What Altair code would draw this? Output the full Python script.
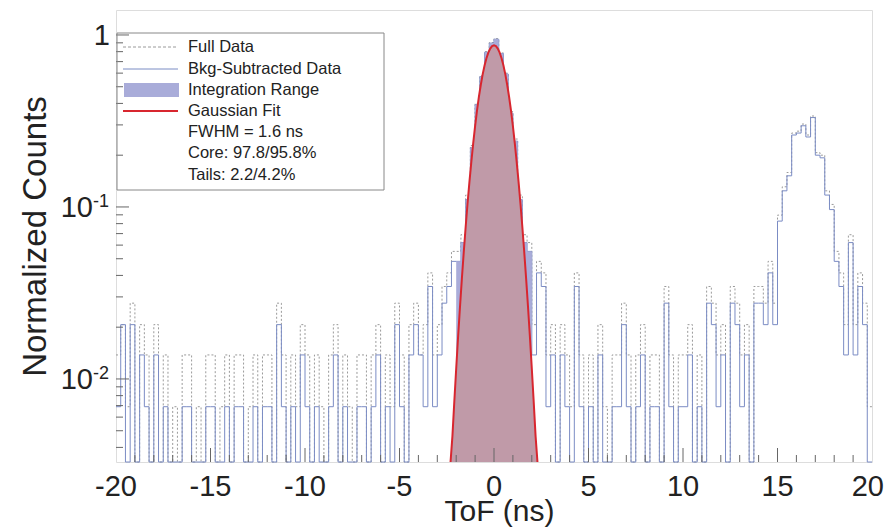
import altair as alt
import pandas as pd
import numpy as np

FONT = "Liberation Sans"

# ---------------- data (counts per 0.25 ns bin, -20 .. 20 ns) ----------------
BIN_W = 0.25
X_MIN = -20.0
NORM = 145.0          # counts -> normalized counts

full_left = [2, 3, 1, 4, 0, 3, 2, 0, 3, 0, 2, 0, 1, 0, 2, 2, 0, 1, 0, 2,
             2, 0, 1, 2, 0, 2, 2, 0, 1, 2, 0, 2, 2, 0, 4, 2, 0, 2, 1, 3,
             2, 0, 2, 1, 0, 2, 3, 0, 2, 1, 0, 2, 2, 0, 2, 3, 0, 2, 1, 4]
full_mid = [2, 0, 3, 4, 2, 3, 6, 2, 3, 5, 6, 8, 8, 10, 17, 33, 58, 84, 116, 131,
            138, 114, 87, 52, 36, 17, 10, 9, 3, 7, 6, 2, 3, 0, 3, 2, 1, 6, 2, 0]
full_right = [2, 0, 3, 1, 0, 2, 2, 4, 2, 0, 2, 3, 0, 2, 2, 0, 5, 2, 0, 2,
              2, 3, 0, 2, 0, 5, 4, 2, 3, 0, 5, 4, 2, 3, 0, 5, 5, 4, 7, 4,
              13, 19, 23, 39, 40, 44, 38, 49, 30, 29, 18, 15, 8, 6, 3, 10, 3, 6, 4, 1]

bkg_left = [1, 3, 0, 3, 0, 2, 1, 0, 2, 0, 1, 0, 0, 0, 1, 1, 0, 0, 0, 1,
            1, 0, 0, 1, 0, 1, 1, 0, 0, 1, 0, 1, 1, 0, 3, 1, 0, 1, 0, 2,
            1, 0, 1, 0, 0, 1, 2, 0, 1, 0, 0, 1, 1, 0, 1, 2, 0, 1, 0, 3]
bkg_mid = [1, 0, 2, 3, 2, 1, 5, 1, 2, 4, 5, 7, 7, 9, 16, 32, 57, 83, 115, 130,
           137, 113, 86, 51, 35, 16, 9, 8, 2, 6, 5, 1, 2, 0, 2, 1, 0, 5, 1, 0]
bkg_right = [1, 0, 2, 0, 0, 1, 1, 3, 1, 0, 1, 2, 0, 1, 1, 0, 4, 1, 0, 1,
             1, 2, 0, 1, 0, 4, 3, 1, 2, 0, 4, 3, 1, 2, 0, 4, 4, 3, 6, 3,
             12, 18, 22, 38, 39, 43, 37, 48, 29, 28, 17, 14, 7, 5, 2, 9, 2, 5, 3, 0]

# Gaussian fit curve (x in ns, normalized counts)
gauss_x = [-2.3, -2.2, -2.1, -2.0, -1.9, -1.8, -1.7, -1.6, -1.5, -1.4, -1.3, -1.2,
           -1.1, -1.0, -0.9, -0.8, -0.7, -0.6, -0.5, -0.4, -0.3, -0.2, -0.1, 0.0,
           0.1, 0.2, 0.3, 0.4, 0.5, 0.6, 0.7, 0.8, 0.9, 1.0, 1.1, 1.2,
           1.3, 1.4, 1.5, 1.6, 1.7, 1.8, 1.9, 2.0, 2.1, 2.2, 2.3]
gauss_y = [0.00285, 0.00465, 0.0074, 0.0115, 0.0176, 0.0262, 0.0383, 0.0547, 0.0765, 0.1047, 0.140, 0.183,
           0.235, 0.295, 0.363, 0.436, 0.512, 0.590, 0.664, 0.732, 0.789, 0.833, 0.861, 0.870,
           0.861, 0.833, 0.789, 0.732, 0.664, 0.590, 0.512, 0.436, 0.363, 0.295, 0.235, 0.183,
           0.140, 0.1047, 0.0765, 0.0547, 0.0383, 0.0262, 0.0176, 0.0115, 0.0074, 0.00465, 0.00285]

INT_RANGE = [-2.0, 2.0]

x_tick_labels = [-20, -15, -10, -5, 0, 5, 10, 15, 20]
x_major_ticks = [-15, -10, -5, 0, 5, 10, 15]
x_minor_ticks = [v for v in range(-19, 20) if v % 5 != 0]
y_major_ticks = [1.0, 0.1, 0.01]
y_minor_ticks = [k * 10.0 ** e for e in (-3, -2, -1) for k in range(2, 10)]

legend_labels = ["Full Data", "Bkg-Subtracted Data", "Integration Range", "Gaussian Fit",
                 "FWHM = 1.6 ns", "Core: 97.8/95.8%", "Tails: 2.2/4.2%"]

# ---------------- build tables ----------------
Y_DOMAIN = [0.00329, 1.397]
FLOOR = 0.0005
full_counts = full_left + full_mid + full_right
bkg_counts = bkg_left + bkg_mid + bkg_right
n = len(full_counts)
edges = [X_MIN + BIN_W * i for i in range(n)] + [X_MIN + BIN_W * n]
full_vals = [max(c / NORM, FLOOR) for c in full_counts]
bkg_vals = [max(c / NORM, FLOOR) for c in bkg_counts]
hist = pd.DataFrame({"x": edges,
                     "full": full_vals + [full_vals[-1]],
                     "bkg": bkg_vals + [bkg_vals[-1]]})
integ = hist[(hist.x >= INT_RANGE[0] - 1e-9) & (hist.x <= INT_RANGE[1] + 1e-9)].copy()
integ.loc[integ.index[-1], "bkg"] = integ["bkg"].iloc[-2]
gauss = pd.DataFrame({"x": gauss_x, "g": gauss_y})

W, H = 756, 452
xscale = alt.Scale(domain=[-20, 20], nice=False, zero=False)
yscale = alt.Scale(type="log", domain=Y_DOMAIN, nice=False, clamp=True)

X = alt.X("x:Q", scale=xscale,
          axis=alt.Axis(labels=False, grid=False, domain=False, ticks=False,
                        title="ToF (ns)", titleFont=FONT, titleFontSize=30,
                        titleFontWeight="normal", titleColor="#222",
                        titleX=383, titleY=58, titleBaseline="alphabetic",
                        titleAlign="center"))


def Yenc(field):
    return alt.Y(f"{field}:Q", scale=yscale,
                 axis=alt.Axis(labels=False, ticks=False, grid=False, domain=False,
                               title="Normalized Counts", titleFont=FONT,
                               titleFontSize=33, titleFontWeight="normal",
                               titleColor="#222", titleX=-81, titleY=226,
                               titleAngle=-90, titleAlign="center",
                               titleBaseline="middle"))


full_line = alt.Chart(hist).mark_line(interpolate="step-after", color="#9a9a9a",
                                      strokeWidth=1, strokeDash=[2, 2]).encode(x=X, y=Yenc("full"))
bkg_line = alt.Chart(hist).mark_line(interpolate="step-after", color="#7b8cc4",
                                     strokeWidth=1).encode(x=X, y=Yenc("bkg"))
integ_area = alt.Chart(integ).mark_area(interpolate="step-after", color="#a9acd9",
                                        opacity=1).encode(x=X, y=Yenc("bkg"), y2=alt.value(H))
gauss_area = alt.Chart(gauss).mark_area(color="#c09aa8", opacity=1).encode(
    x=X, y=Yenc("g"), y2=alt.value(H))
gauss_line = alt.Chart(gauss).mark_line(color="#d8262f", strokeWidth=2).encode(x=X, y=Yenc("g"))

tick_color = "#666"
xmaj = alt.Chart(pd.DataFrame({"x": x_major_ticks})).mark_rule(color=tick_color).encode(
    x=X, y=alt.value(H), y2=alt.value(H - 14))
xmin = alt.Chart(pd.DataFrame({"x": x_minor_ticks})).mark_rule(color=tick_color).encode(
    x=X, y=alt.value(H), y2=alt.value(H - 7))
ymaj = alt.Chart(pd.DataFrame({"v": y_major_ticks})).mark_rule(color=tick_color).encode(
    y=Yenc("v"), x=alt.value(0), x2=alt.value(13))
ymin = alt.Chart(pd.DataFrame({"v": [v for v in y_minor_ticks if Y_DOMAIN[0] <= v <= Y_DOMAIN[1]]})
                 ).mark_rule(color=tick_color).encode(y=Yenc("v"), x=alt.value(0), x2=alt.value(7))

# x tick labels (hyphen minus, as in the original); the last one kept inside the page
xl = pd.DataFrame({"x": x_tick_labels, "t": [str(v) for v in x_tick_labels]})
xlab_main = alt.Chart(xl[xl.x < 20]).mark_text(
    align="center", baseline="alphabetic", font=FONT, fontSize=29, color="#222"
).encode(x=X, y=alt.value(H + 34), text="t:N")
xlab_last = alt.Chart(xl[xl.x >= 20]).mark_text(
    align="right", baseline="alphabetic", font=FONT, fontSize=29, color="#222", dx=12
).encode(x=X, y=alt.value(H + 34), text="t:N")

# y tick labels with superscripts
ylab_one = alt.Chart(pd.DataFrame({"v": [1.0], "t": ["1"]})).mark_text(
    align="right", baseline="alphabetic", font=FONT, fontSize=29, color="#222", dy=10
).encode(y=Yenc("v"), x=alt.value(-6), text="t:N")
ylab_ten = alt.Chart(pd.DataFrame({"v": [0.1, 0.01], "t": ["10", "10"], "s": ["-1", "-2"]}))
ylab_base = ylab_ten.mark_text(align="right", baseline="alphabetic", font=FONT, fontSize=29,
                               color="#222", dy=10).encode(y=Yenc("v"), x=alt.value(-23), text="t:N")
ylab_sup = ylab_ten.mark_text(align="left", baseline="alphabetic", font=FONT, fontSize=18,
                              color="#222", dy=0).encode(y=Yenc("v"), x=alt.value(-23), text="s:N")

# legend
LX0, LX1, LY0, LY1 = 1, 268, 23, 180
rows = [37, 59, 80, 101, 122, 143, 165]
one = alt.Data(values=[{"a": 1}])
leg_box = alt.Chart(one).mark_rect(fillOpacity=0, stroke="#888", strokeWidth=1).encode(
    x=alt.value(LX0), x2=alt.value(LX1), y=alt.value(LY0), y2=alt.value(LY1))
leg_full = alt.Chart(one).mark_rule(color="#9a9a9a", strokeDash=[3, 2]).encode(
    x=alt.value(7), x2=alt.value(62), y=alt.value(rows[0]))
leg_bkg = alt.Chart(one).mark_rule(color="#7b8cc4").encode(
    x=alt.value(7), x2=alt.value(62), y=alt.value(rows[1]))
leg_int = alt.Chart(one).mark_rect(color="#a9acd9").encode(
    x=alt.value(8), x2=alt.value(63), y=alt.value(rows[2] - 7), y2=alt.value(rows[2] + 7))
leg_fit = alt.Chart(one).mark_rule(color="#d8262f", strokeWidth=2).encode(
    x=alt.value(7), x2=alt.value(62), y=alt.value(rows[3]))
leg_texts = [alt.Chart(alt.Data(values=[{"t": lab}])).mark_text(
    align="left", baseline="middle", font=FONT, fontSize=16.5, color="#222").encode(
    text="t:N", x=alt.value(72), y=alt.value(r)) for lab, r in zip(legend_labels, rows)]

chart = alt.layer(
    full_line, bkg_line, integ_area, gauss_area, gauss_line,
    xmaj, xmin, ymaj, ymin, xlab_main, xlab_last, ylab_one, ylab_base, ylab_sup,
    leg_box, leg_full, leg_bkg, leg_int, leg_fit, *leg_texts
).properties(
    width=W, height=H,
    autosize=alt.AutoSizeParams(type="none"),
    padding={"left": 108, "top": 2, "right": 12, "bottom": 66},
).configure_view(stroke="#8a8a8a", strokeWidth=1).configure(background="white")

chart.save("out.html", embed_options={"renderer": "svg", "actions": False})
